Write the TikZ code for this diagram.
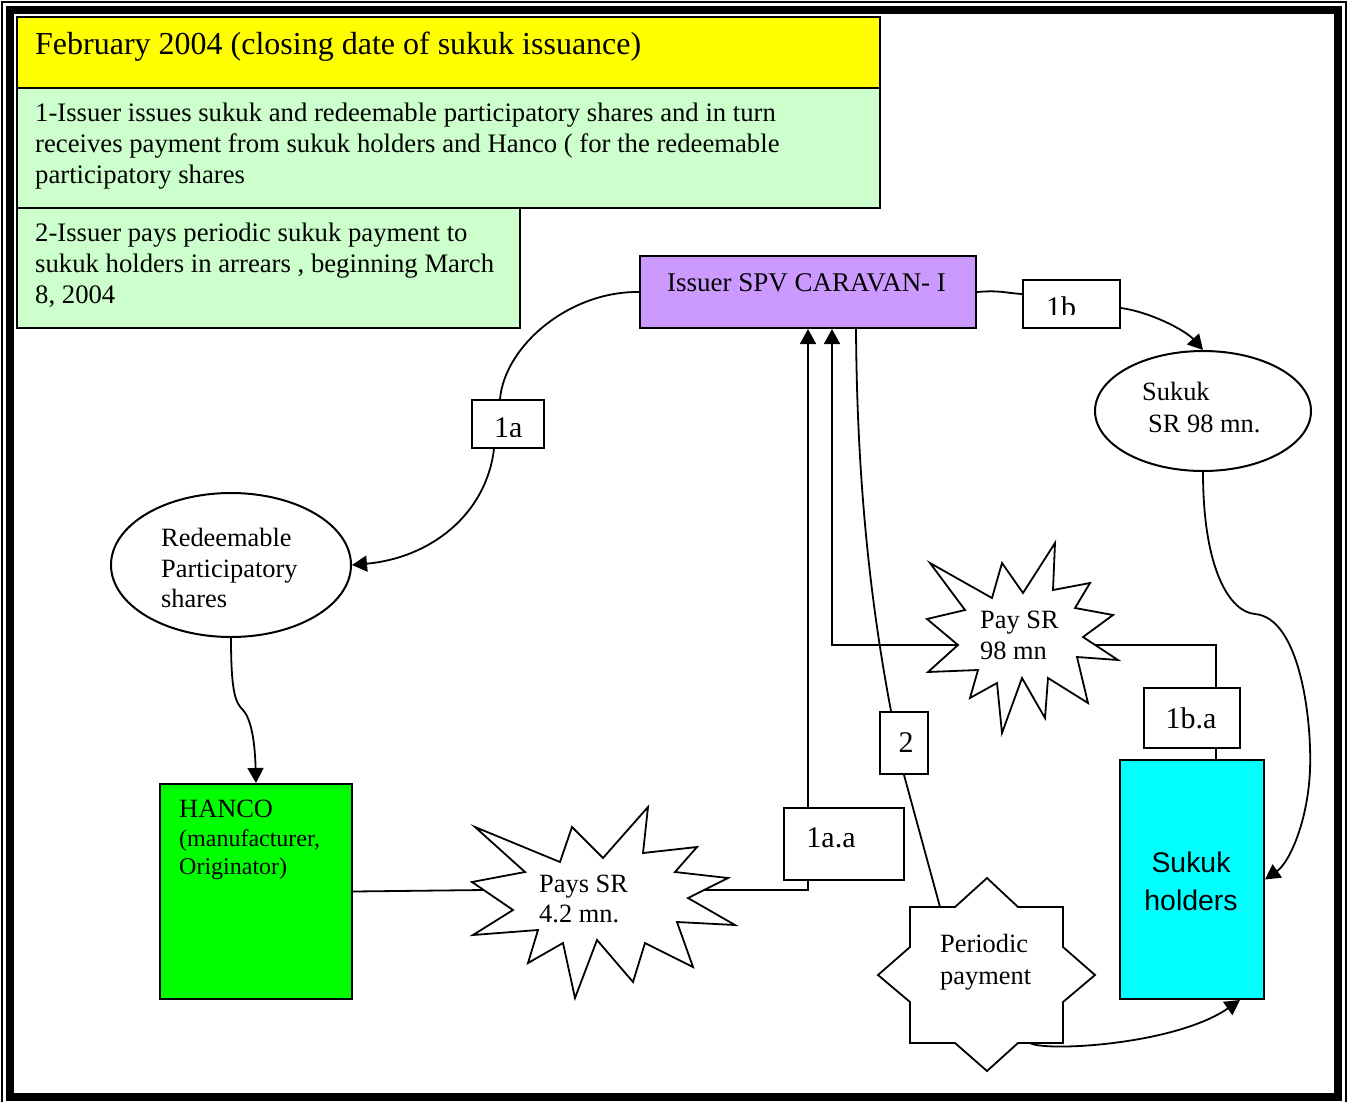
\documentclass[tikz,border=0pt]{standalone}
\usepackage{fontspec}
\setmainfont{Liberation Serif}
\newfontfamily\arialf{Liberation Sans}
\usetikzlibrary{arrows.meta,calc,shapes.geometric}
\pgfdeclarelayer{back}
\pgfdeclarelayer{wires}
\pgfsetlayers{back,wires,main}
\definecolor{cyellow}{HTML}{FFFF00}
\definecolor{cpale}{HTML}{CCFFCC}
\definecolor{cpurple}{HTML}{CC99FF}
\definecolor{cgreen}{HTML}{00FF00}
\definecolor{ccyan}{HTML}{00FFFF}
\begin{document}
\begin{tikzpicture}[x=1pt,y=-1pt,
  box/.style={draw=black, line width=2pt, rectangle, inner sep=0pt, anchor=north west},
  conn/.style={draw=black, line width=1.8pt},
  arr/.style={conn, -{Triangle[length=15pt,width=16pt]}},
  starshape/.style={draw=black, fill=white, line width=1.8pt, line join=miter},
  txt/.style={inner sep=0pt, anchor=north west, align=left, font=\fontsize{26.7}{31}\selectfont},
  lbl/.style={inner sep=0pt, anchor=base, font=\fontsize{30}{36}\selectfont},
  ell/.style={draw=black, line width=2pt, ellipse, fill=white, inner sep=0pt}
]
\useasboundingbox (0,0) rectangle (1350,1101);
\begin{pgfonlayer}{back}
\fill[white] (0,0) rectangle (1350,1101);
\end{pgfonlayer}
% frame
\draw[line width=1.5pt] (2,2) rectangle (1346,1108);
\draw[line width=7.5pt] (10,10) rectangle (1338,1097);

% boxes
\node[box, fill=cyellow, minimum width=863pt, minimum height=71pt] (title) at (16,16) {};
\node[box, fill=cpale, minimum width=863pt, minimum height=120pt] (g1) at (16,87) {};
\node[box, fill=cpale, minimum width=503pt, minimum height=120pt] (g2) at (16,207) {};
\node[box, fill=cpurple, minimum width=336pt, minimum height=72pt] (issuer) at (639,255) {};
\node[ell, minimum width=216pt, minimum height=120pt] (sukuk) at (1203,411) {};
\node[ell, minimum width=240pt, minimum height=144pt] (red) at (231,565) {};
\node[box, fill=cgreen, minimum width=192pt, minimum height=215pt] (hanco) at (159,783) {};
\node[box, fill=ccyan, minimum width=144pt, minimum height=239pt] (holders) at (1119,759) {};

% label boxes
\node[box, fill=white, minimum width=72pt, minimum height=48pt] (l1a) at (471,399) {};
\node[box, fill=white, minimum width=97pt, minimum height=48pt] (l1b) at (1022,279) {};
\node[box, fill=white, minimum width=120pt, minimum height=72pt] (l1aa) at (783,807) {};
\node[box, fill=white, minimum width=48pt, minimum height=62pt] (l2) at (879,711) {};
\node[box, fill=white, minimum width=96pt, minimum height=60pt] (l1ba) at (1143,687) {};

% free connector ends on the star shapes
\coordinate (s1in) at (484,890);
\coordinate (s1out) at (704,890);
\coordinate (s2in) at (958,645);
\coordinate (s2out) at (1095,645);
\coordinate (pptop) at (940,907);
\coordinate (ppbot) at (1030,1043);

% connectors
\begin{pgfonlayer}{wires}
\draw[conn] (issuer.west) .. controls (570,291) and (505,345) .. ($(l1a.north)+(-8,0)$);
\draw[arr] ($(l1a.south)+(-14,0)$) .. controls (486,515) and (430,558) .. (red.east);
\draw[arr] (red.south) .. controls (231,695) and (236,703) .. (243,710) .. controls (252,720) and (255,745) .. (hanco.north);
\draw[conn] (hanco.east) -- (s1in);
\draw[conn] (s1out) -| ($(l1aa.south)+(-36,0)$);
\draw[arr] ($(l1aa.north)+(-36,0)$) -- (issuer.south);
\draw[conn] ($(holders.north)+(24,0)$) -- ($(l1ba.south)+(24,0)$);
\draw[conn] ($(l1ba.north)+(24,0)$) |- (s2out);
\draw[arr] (s2in) -| ($(issuer.south)+(24,0)$);
\draw[conn] ($(issuer.south)+(48,0)$) .. controls (857,480) and (870,600) .. ($(l2.north)+(-13,0)$);
\draw[conn] (l2.south) -- (pptop);
\draw[arr] (ppbot) .. controls (1045,1052) and (1175,1045) .. ($(holders.south)+(48,0)$);
\draw[conn] (issuer.east) .. controls (1000,290) and (1005,293) .. ($(l1b.west)+(0,-10)$);
\draw[arr] ($(l1b.east)+(0,4)$) .. controls (1150,312) and (1185,330) .. (sukuk.north);
\draw[arr] (sukuk.south) .. controls (1203,570) and (1230,612) .. (1255,614) .. controls (1300,618) and (1312,720) .. (1310,770) .. controls (1308,820) and (1290,862) .. (holders.east);
\end{pgfonlayer}

% star shapes
\draw[starshape] (475,827) -- (560,862) -- (572,827) -- (603,858) -- (648,807) -- (643,853) -- (697,847) -- (675,872) -- (728,878) -- (688,898) -- (735,925) -- (677,922) -- (693,967) -- (645,943) -- (633,982) -- (597,940) -- (575,998) -- (563,943) -- (528,963) -- (538,930) -- (473,935) -- (513,910) -- (472,882) -- (525,872) -- cycle;
\draw[starshape] (930,563) -- (992,598) -- (1002,563) -- (1023,593) -- (1055,543) -- (1053,590) -- (1090,583) -- (1075,608) -- (1113,615) -- (1083,637) -- (1118,660) -- (1077,657) -- (1088,703) -- (1048,678) -- (1045,718) -- (1022,678) -- (1002,733) -- (997,683) -- (970,698) -- (978,670) -- (928,672) -- (958,645) -- (927,619) -- (965,610) -- cycle;
\draw[starshape] (987,878) -- (1018,907) -- (1063,907) -- (1063,947) -- (1095,975) -- (1063,1002) -- (1063,1043) -- (1018,1043) -- (987,1071) -- (955,1043) -- (910,1043) -- (910,1002) -- (878,975) -- (910,947) -- (910,907) -- (955,907) -- cycle;

% texts
\node[txt, font=\fontsize{32}{38}\selectfont] (ttitle) at (35,32) {February 2004 (closing date of sukuk issuance)};
\node[txt] (tg1) at (35,103) {1-Issuer issues sukuk and redeemable participatory shares and in turn\\receives payment from sukuk holders and Hanco ( for the redeemable\\participatory shares};
\node[txt] (tg2) at (35,223) {2-Issuer pays periodic sukuk payment to\\sukuk holders in arrears , beginning March\\8, 2004};
\node[txt, font=\fontsize{27}{31}\selectfont] (tiss) at (667,273.5) {Issuer SPV CARAVAN- I};
\node[txt, font=\fontsize{26.4}{32}\selectfont] (tsuk) at (1142,382) {Sukuk\\\hspace*{6pt}SR 98 mn.};
\node[txt, font=\fontsize{26.4}{30.5}\selectfont] (tred) at (161,528) {Redeemable\\Participatory\\shares};
\node[txt, font=\fontsize{26.4}{31}\selectfont] (thanco) at (179,800) {HANCO};
\node[txt, font=\fontsize{24}{28}\selectfont] (thsub) at (179,829) {(manufacturer,\\Originator)};
\node[txt, font=\fontsize{26.4}{30}\selectfont] (ts1) at (539,874.5) {Pays SR\\4.2 mn.};
\node[txt, font=\fontsize{26.4}{31}\selectfont] (ts2) at (980,610.5) {Pay SR\\98 mn};
\node[txt, font=\fontsize{26.4}{32}\selectfont] (tpp) at (940,934) {Periodic\\payment};
\node[inner sep=0pt, anchor=north, align=center, font=\arialf\fontsize{28.4}{38}\selectfont] (thold) at (1191,851.5) {Sukuk\\holders};
\node[lbl] (t1aa) at (831,847) {1a.a};
\node[lbl] (t2) at (906,752) {2};
\node[lbl] (t1ba) at (1191,728) {1b.a};
\begin{scope}
\clip (471,399) rectangle (543,436);
\node[lbl, anchor=base west] (t1a) at (494,437) {1a};
\end{scope}
\begin{scope}
\clip (1022,279) rectangle (1119,314);
\node[lbl, anchor=base west] (t1b) at (1046,317) {1b};
\end{scope}
\end{tikzpicture}
\end{document}
